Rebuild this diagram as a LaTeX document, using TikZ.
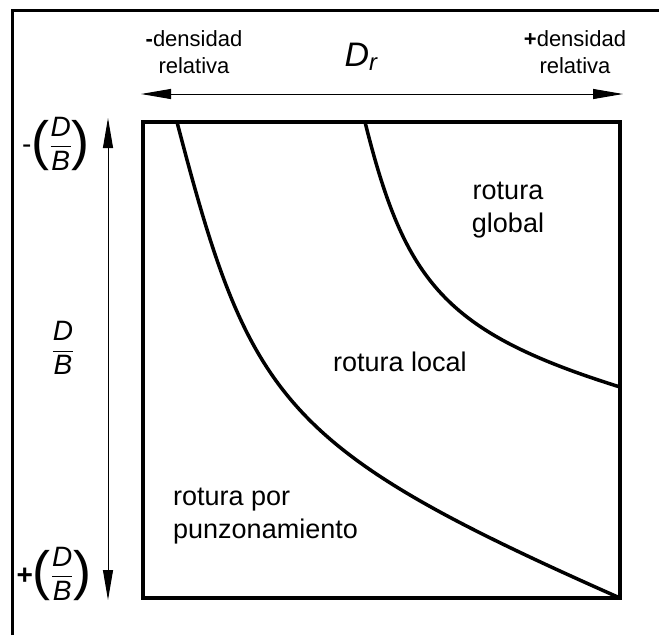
\documentclass[tikz,border=0pt]{standalone}
\usepackage{amsmath}
\usepackage{fontspec}
\setmainfont{Liberation Sans}
\usetikzlibrary{arrows.meta, positioning}
\newcommand{\bigparen}[1]{{\fontsize{54}{54}\selectfont #1}}
\newcommand{\DB}{\raisebox{7pt}{$\dfrac{\textit{D}}{\textit{B}}$}}

\begin{document}
\begin{tikzpicture}[
    x=1pt, y=-1pt,
    frame/.style={line width=3pt},
    box/.style={line width=4pt, line join=miter},
    curve/.style={line width=3.5pt},
    axis/.style={{Triangle[length=30pt,width=10pt]}-{Triangle[length=30pt,width=10pt]}, line width=1pt},
    region/.style={font=\fontsize{27}{33}\selectfont, inner sep=0pt},
    dens/.style={font=\fontsize{22}{27}\selectfont, align=center, inner sep=0pt},
    ratio/.style={font=\fontsize{28}{32}\selectfont, inner sep=0pt}
]
    \useasboundingbox (0,0) rectangle (659,635);
    \draw[frame] (12,635) -- (12,10) -- (659,10);

    % main square
    \coordinate (sw) at (143,598);
    \coordinate (ne) at (620,122);
    \draw[box] (sw) rectangle (ne);

    % axes
    \coordinate (dl) at (141,94);
    \coordinate (dh) at (623,94);
    \coordinate (bt) at (108,118);
    \coordinate (bb) at (108,600);
    \draw[axis] (dl) -- (dh);
    \draw[axis] (bt) -- (bb);

    % boundaries between failure modes
    \coordinate (a0) at (177,122);
    \coordinate (a1) at (620,598);
    \coordinate (b0) at (365,122);
    \coordinate (b1) at (620,387);
    \draw[curve] (a0) .. controls (250,402) and (281,448) .. (a1);
    \draw[curve] (b0) .. controls (405,282) and (444,332) .. (b1);

    \node[dens] (lo) at (194,52) {\textbf{-}densidad\\relativa};
    \node[dens] (hi) at (575,52) {\textbf{+}densidad\\relativa};
    \node[font=\fontsize{34}{40}\selectfont, inner sep=0pt] (dr) at (361,57) {$\textit{D}_{\textit{r}}$};

    \node[ratio] (top) at (56,144) {\raisebox{6pt}{-}\bigparen{(}\DB\bigparen{)}};
    \node[ratio] (mid) at (63,348) {$\dfrac{\textit{D}}{\textit{B}}$};
    \node[ratio] (bot) at (54,574) {\raisebox{5pt}{\textbf{+}}\bigparen{(}\DB\bigparen{)}};

    \node[region, align=center] (glob) at (508,210) {rotura\\global};
    \node[region] (loc) at (400,362) {rotura local};
    \node[region, align=left, anchor=north west] (punz) at (173,488) {rotura por\\punzonamiento};
\end{tikzpicture}
\end{document}
